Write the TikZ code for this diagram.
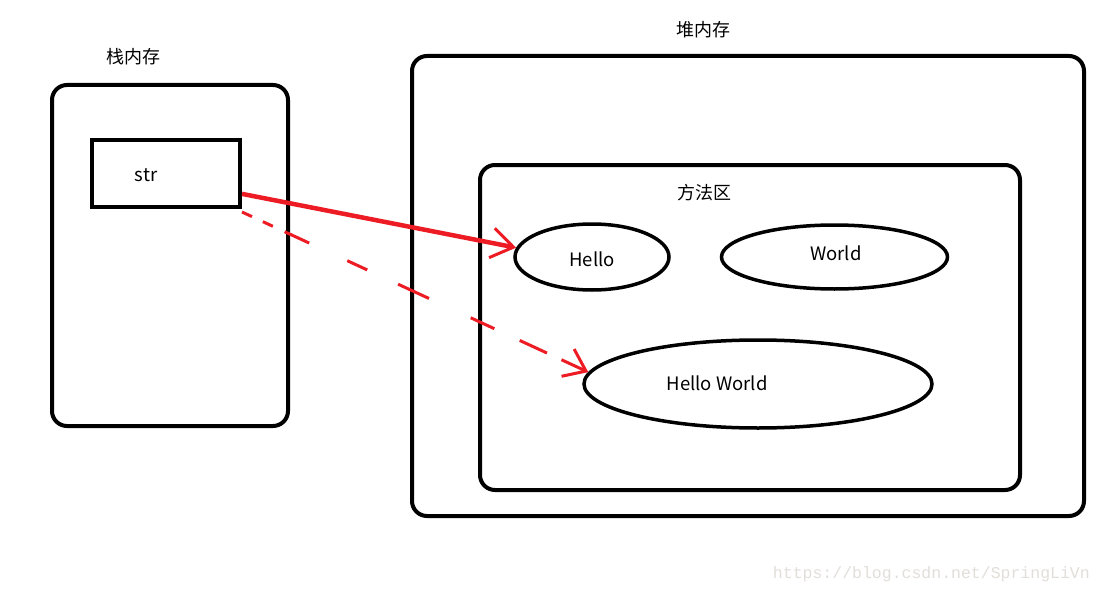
\documentclass[tikz,border=0pt]{standalone}
\usepackage{fontspec}
\usetikzlibrary{shapes.geometric,arrows.meta}
\newfontfamily\cjk{Noto Sans CJK SC}
\newfontfamily\wmfont{Liberation Mono}
\definecolor{paintred}{HTML}{ED1C24}
\definecolor{wmgray}{HTML}{E2DFDA}
\begin{document}
\begin{tikzpicture}[x=1pt,y=-1pt,
  box/.style={draw=black,line width=4pt,rounded corners=15pt,inner sep=0pt},
  strbox/.style={draw=black,line width=4pt,inner sep=0pt},
  oval/.style={draw=black,line width=3.5pt,ellipse,inner sep=0pt},
  lbl/.style={font=\cjk\fontsize{18}{20}\selectfont,inner sep=0pt},
  txt/.style={font=\cjk\fontsize{18.5}{20}\selectfont,inner sep=0pt},
  redarrow/.style={draw=paintred,line width=4.5pt,-{Straight Barb[length=22pt,width=30pt,line width=3pt]}},
  reddash/.style={draw=paintred,line width=3pt,-{Straight Barb[length=20pt,width=30pt,line width=3pt]},
    dash pattern=on 11pt off 12pt on 11pt off 13pt on 27pt off 42pt on 22pt off 34pt on 34pt off 46pt on 26pt off 28pt on 30pt off 16pt on 40pt}
]
\useasboundingbox (0,0) rectangle (1101,594);
\fill[white] (0,0) rectangle (1101,594);

% stack memory
\node[box,minimum width=236pt,minimum height=341pt] (stack) at (170,255.5) {};
\node[lbl] (stacklbl) at (133,57) {栈内存};
\node[strbox,minimum width=148pt,minimum height=67pt] (str) at (166,173.5) {};
\node[txt] (strtxt) at (146,175) {str};

% heap memory
\node[box,minimum width=672pt,minimum height=460pt] (heap) at (748,286) {};
\node[lbl] (heaplbl) at (703,30) {堆内存};
\node[box,minimum width=540pt,minimum height=325pt] (method) at (750,327.5) {};
\node[lbl] (methodlbl) at (704,193) {方法区};

% strings
\node[oval,minimum width=154pt,minimum height=66pt] (hello) at (592,257) {};
\node[txt] (hellotxt) at (592,259) {Hello};
\node[oval,minimum width=226pt,minimum height=64pt] (world) at (834.5,257) {};
\node[txt] (worldtxt) at (836,253) {World};
\node[oval,minimum width=348pt,minimum height=88pt] (hw) at (758,384) {};
\node[txt] (hwtxt) at (717,383) {Hello World};

% arrows
\coordinate (dstart) at ([yshift=-3pt]str.south east);
\draw[redarrow] (str.-15) -- (hello.173);
\draw[reddash] (dstart) -- (hw.176);

% watermark
\node[font=\wmfont\fontsize{16.5}{18}\selectfont,text=wmgray,inner sep=0pt,anchor=east] (wm) at (1090,574) {https://blog.csdn.net/SpringLiVn};
\end{tikzpicture}
\end{document}
